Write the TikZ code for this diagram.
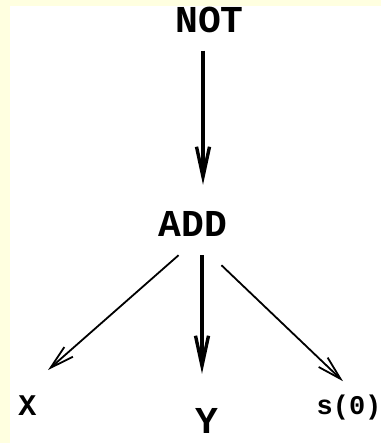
\documentclass[tikz,border=0pt]{standalone}
\usepackage{fontspec}
\setmonofont{Liberation Mono}
\usepackage{tikz}
\usetikzlibrary{arrows.meta}
\definecolor{paleyellow}{HTML}{FFFFE0}

\begin{document}
\begin{tikzpicture}[x=1pt,y=-1pt,
          term/.style={inner sep=0pt,anchor=base,font=\ttfamily\bfseries},
          arr/.style={-{Straight Barb[length=30pt,width=13pt]},line width=3.4pt},
          thin arr/.style={-{Straight Barb[length=24pt,width=13pt]},line width=1.8pt},
      ]
        % background
        \fill[paleyellow] (0,0) rectangle (381,443);
        \fill[white] (10,6) rectangle (381,443);
        \useasboundingbox (0,0) rectangle (381,443);
        % nodes
        \node[term,font=\ttfamily\bfseries\fontsize{38}{38}\selectfont] (not) at (209.5,33) {NOT};
        \node[term,font=\ttfamily\bfseries\fontsize{38}{38}\selectfont] (add) at (193,236) {ADD};
        \node[term,font=\ttfamily\bfseries\fontsize{30}{30}\selectfont] (x) at (27.5,415) {X};
        \node[term,font=\ttfamily\bfseries\fontsize{38}{38}\selectfont] (y) at (207,433) {Y};
        \node[term,font=\ttfamily\bfseries\fontsize{27}{27}\selectfont] (s0) at (349,414) {s(0)};
        % connectors
        \draw[arr] ([xshift=-6.5pt,yshift=-17pt]not.south) -- ([xshift=10pt,yshift=26pt]add.north);
        \draw[arr] ([xshift=9pt,yshift=-19pt]add.south) -- ([xshift=-5pt,yshift=34pt]y.north);
        \draw[thin arr] ([xshift=20pt,yshift=-19pt]add.south west) -- ([xshift=20.5pt,yshift=25pt]x.north);
        \draw[thin arr] ([xshift=-6pt,yshift=-29pt]add.south east) -- ([xshift=-6pt,yshift=13pt]s0.north);
      \end{tikzpicture}
\end{document}
